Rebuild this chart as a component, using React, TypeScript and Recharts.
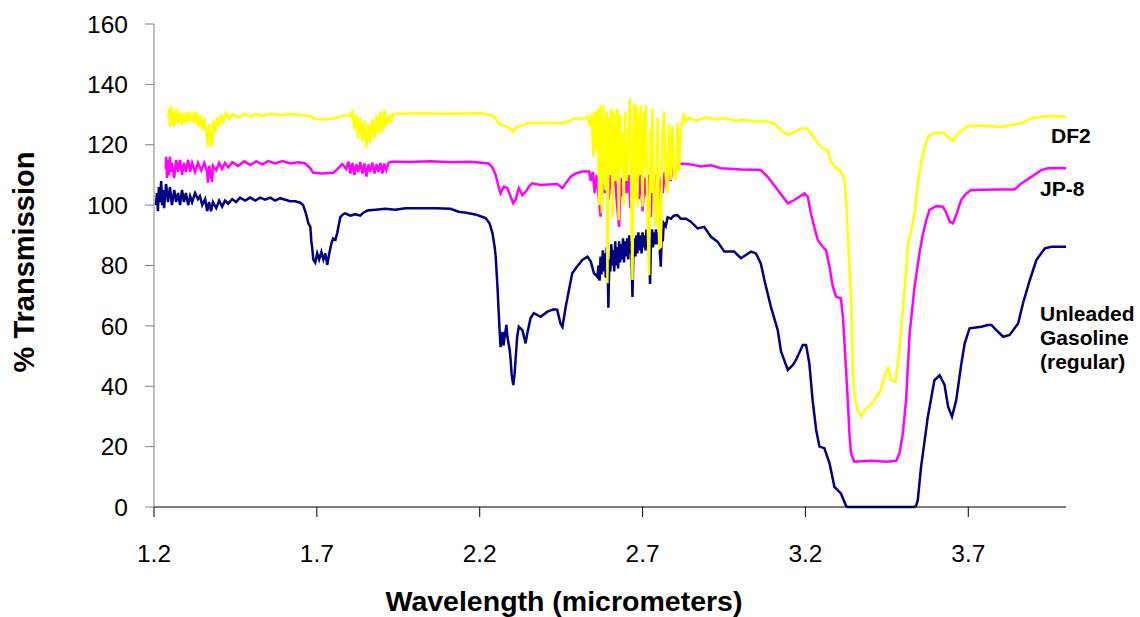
import { LineChart, Line, XAxis, YAxis } from "recharts";

const FONT = "'Liberation Sans', Arial, sans-serif";

const xTicks = [1.2, 1.7, 2.2, 2.7, 3.2, 3.7];
const yTicks = [0, 20, 40, 60, 80, 100, 120, 140, 160];

// [wavelength (micrometers), % transmission]
const gasoline: [number, number][] = [
  [1.206, 100], [1.209, 104], [1.212, 98], [1.215, 106], [1.218, 101], [1.222, 108], [1.225, 100], [1.228, 105],
  [1.231, 99], [1.237, 107], [1.243, 101], [1.249, 106], [1.255, 100], [1.262, 105], [1.268, 101], [1.274, 104],
  [1.28, 100], [1.286, 105], [1.292, 101], [1.298, 104], [1.305, 100], [1.311, 103], [1.317, 101], [1.326, 104],
  [1.335, 102], [1.341, 103], [1.348, 100], [1.357, 102], [1.363, 98], [1.369, 101], [1.375, 98], [1.381, 101],
  [1.391, 99], [1.4, 101.5], [1.409, 99.5], [1.418, 101.5], [1.428, 100.5], [1.44, 102], [1.452, 101], [1.464, 102.5],
  [1.48, 101.5], [1.495, 102.5], [1.511, 101.5], [1.526, 102.5], [1.541, 101.8], [1.557, 102.5], [1.572, 101.5],
  [1.587, 102.3], [1.603, 101.8], [1.618, 101.3], [1.634, 101.3], [1.649, 100.8], [1.658, 100], [1.667, 97],
  [1.674, 94], [1.68, 92.8], [1.683, 88], [1.686, 85.7], [1.689, 82], [1.695, 81], [1.701, 84], [1.707, 82],
  [1.714, 84.5], [1.72, 82], [1.726, 84], [1.732, 80.2], [1.738, 84], [1.744, 87], [1.75, 89], [1.757, 88.5],
  [1.763, 91], [1.772, 96], [1.781, 97], [1.787, 97.3], [1.803, 96.5], [1.818, 97], [1.833, 96.5], [1.843, 97.5],
  [1.855, 98.2], [1.88, 98.5], [1.91, 98.8], [1.941, 98.5], [1.972, 99], [2.018, 99], [2.064, 99], [2.11, 98.8],
  [2.135, 97.8], [2.159, 97.5], [2.19, 96.8], [2.218, 95.7], [2.23, 94], [2.239, 90.8], [2.246, 86], [2.249, 83],
  [2.255, 72], [2.258, 65], [2.261, 58.6], [2.264, 53], [2.267, 55], [2.27, 58], [2.273, 53.5], [2.276, 56],
  [2.282, 60.3], [2.285, 56.4], [2.292, 52], [2.295, 48.7], [2.298, 44], [2.303, 40.4], [2.307, 44], [2.31, 48.7],
  [2.315, 56.4], [2.32, 59.7], [2.331, 58.6], [2.341, 54.2], [2.346, 57.5], [2.356, 62.5], [2.366, 64.2],
  [2.387, 63], [2.408, 64.7], [2.427, 65.5], [2.438, 65.3], [2.448, 60.8], [2.454, 59.7], [2.464, 66.3],
  [2.474, 71.9], [2.484, 77.4], [2.495, 79.1], [2.515, 81.8], [2.531, 82.9], [2.541, 81.3], [2.551, 77.4],
  [2.561, 76.3], [2.565, 80], [2.568, 75], [2.571, 83], [2.574, 77], [2.578, 85], [2.581, 78], [2.584, 84],
  [2.587, 76], [2.59, 86], [2.593, 79], [2.595, 66], [2.598, 82], [2.601, 78], [2.604, 87], [2.607, 80],
  [2.61, 85], [2.613, 78], [2.616, 88], [2.619, 80], [2.622, 86], [2.625, 79], [2.628, 88], [2.631, 81],
  [2.634, 87], [2.637, 82], [2.64, 89], [2.643, 81], [2.646, 88], [2.65, 83], [2.653, 89], [2.656, 82],
  [2.659, 90], [2.662, 84], [2.665, 88], [2.669, 69.6], [2.672, 85], [2.675, 89], [2.678, 83], [2.681, 90],
  [2.684, 84], [2.687, 91], [2.69, 85], [2.693, 90], [2.697, 84], [2.7, 91], [2.703, 86], [2.706, 90],
  [2.709, 85], [2.712, 92], [2.715, 86], [2.718, 91], [2.723, 73.9], [2.726, 88], [2.729, 92], [2.732, 86],
  [2.735, 91], [2.738, 87], [2.741, 92], [2.745, 87], [2.748, 91], [2.751, 88], [2.756, 79.6], [2.759, 92],
  [2.762, 88], [2.765, 94], [2.771, 93], [2.777, 96], [2.787, 95.5], [2.796, 96.5], [2.807, 96.7], [2.817, 95.5],
  [2.833, 95.5], [2.848, 94.5], [2.869, 92.3], [2.889, 92.8], [2.91, 89.5], [2.93, 87.9], [2.951, 84.6],
  [2.981, 84.6], [3.002, 82.4], [3.033, 84.6], [3.048, 84], [3.063, 80.7], [3.074, 75.2], [3.094, 66.3],
  [3.115, 58.6], [3.125, 51.5], [3.146, 45.4], [3.161, 47], [3.171, 48.7], [3.192, 53.7], [3.202, 53.7],
  [3.212, 47.6], [3.222, 35.4], [3.233, 25.5], [3.243, 20], [3.258, 19.5], [3.274, 14.5], [3.289, 6.7],
  [3.309, 4.5], [3.325, 0.3], [3.33, 0], [3.432, 0], [3.534, 0], [3.54, 0.5], [3.545, 2.3], [3.555, 13.3],
  [3.566, 22], [3.576, 30], [3.586, 36], [3.596, 42], [3.612, 43.6], [3.627, 40.5], [3.638, 33.2], [3.65, 29.9],
  [3.663, 35.4], [3.678, 47], [3.689, 54.2], [3.704, 59.2], [3.74, 59.7], [3.76, 60.3], [3.771, 60.3],
  [3.786, 58.6], [3.807, 56.4], [3.827, 57], [3.853, 60.8], [3.868, 67.5], [3.889, 75.2], [3.909, 81.8],
  [3.935, 85.7], [3.955, 86.2], [4.0, 86.2],
];

const jp8: [number, number][] = [
  [1.236, 112], [1.237, 116], [1.24, 109], [1.243, 115], [1.246, 110], [1.249, 116], [1.252, 111], [1.255, 114],
  [1.262, 109], [1.268, 115], [1.274, 111], [1.28, 115], [1.286, 110], [1.292, 114], [1.298, 111], [1.305, 115],
  [1.311, 111], [1.317, 114], [1.326, 111], [1.335, 114], [1.345, 111.5], [1.354, 114], [1.363, 111],
  [1.366, 107.4], [1.369, 113], [1.375, 110], [1.378, 107.6], [1.381, 113], [1.391, 111.5], [1.4, 114],
  [1.409, 112], [1.418, 114], [1.428, 112.5], [1.44, 114.2], [1.458, 113], [1.477, 114.5], [1.495, 113.3],
  [1.514, 114.5], [1.532, 113.5], [1.551, 114.6], [1.572, 113.8], [1.594, 114.6], [1.618, 113.8], [1.643, 114.2],
  [1.664, 113.8], [1.68, 112.2], [1.689, 110.7], [1.717, 110.5], [1.75, 110.7], [1.76, 111.6], [1.778, 113.6],
  [1.79, 112], [1.797, 114.4], [1.803, 110.5], [1.809, 114], [1.815, 110], [1.821, 113.5], [1.827, 111],
  [1.833, 114.2], [1.84, 110.5], [1.846, 113.8], [1.852, 109.5], [1.858, 113.5], [1.864, 111], [1.87, 114],
  [1.877, 110.5], [1.883, 113.5], [1.889, 111], [1.895, 114], [1.901, 110.5], [1.907, 113.8], [1.913, 111.5],
  [1.92, 114], [1.932, 114.4], [1.987, 114.3], [2.049, 114.5], [2.11, 114.2], [2.172, 114.4], [2.227, 113.8],
  [2.238, 112.7], [2.249, 110], [2.259, 105.6], [2.264, 103.9], [2.274, 106.1], [2.285, 105.6], [2.295, 102.8],
  [2.303, 100.6], [2.31, 101.7], [2.32, 105.6], [2.331, 103.3], [2.341, 104.4], [2.351, 106.1], [2.361, 107.2],
  [2.387, 106.7], [2.438, 107], [2.454, 105.6], [2.464, 107.2], [2.479, 109.4], [2.495, 110.5], [2.515, 111.1],
  [2.536, 111.1], [2.541, 108], [2.547, 111], [2.553, 104], [2.559, 110], [2.565, 103], [2.571, 96.2],
  [2.578, 109], [2.584, 104], [2.59, 111], [2.596, 102], [2.602, 110], [2.608, 105], [2.614, 111], [2.621, 101],
  [2.628, 92.8], [2.633, 109], [2.639, 103], [2.645, 111], [2.651, 104], [2.657, 110], [2.663, 99], [2.669, 110],
  [2.675, 104], [2.681, 111], [2.688, 102], [2.694, 110], [2.7, 98], [2.706, 109], [2.712, 103], [2.718, 110],
  [2.725, 96], [2.731, 108], [2.737, 103], [2.743, 110], [2.749, 100], [2.756, 109], [2.762, 104], [2.768, 111],
  [2.774, 106], [2.78, 112], [2.786, 108], [2.792, 112.5], [2.799, 110], [2.805, 113], [2.817, 113.8],
  [2.848, 113.5], [2.879, 112.8], [2.91, 113.2], [2.94, 112.2], [3.002, 111.8], [3.063, 111.6], [3.084, 109.4],
  [3.115, 105], [3.146, 100.6], [3.166, 101.7], [3.197, 103.9], [3.207, 102.8], [3.217, 97.3], [3.227, 92.8],
  [3.238, 88.4], [3.253, 86.2], [3.263, 85.1], [3.274, 79.6], [3.284, 73], [3.294, 69.7], [3.309, 69.1],
  [3.315, 63], [3.32, 54.2], [3.33, 35.4], [3.335, 24.4], [3.34, 17.8], [3.35, 15], [3.402, 15.3], [3.448, 15],
  [3.479, 15.3], [3.489, 17.8], [3.499, 24.4], [3.509, 35.4], [3.52, 57.5], [3.535, 73], [3.55, 84],
  [3.561, 90.6], [3.571, 95], [3.581, 98.4], [3.602, 99.7], [3.622, 99.5], [3.633, 97.3], [3.643, 94.5],
  [3.653, 94], [3.663, 96.7], [3.678, 101.7], [3.694, 103.9], [3.709, 105], [3.791, 105.2], [3.842, 105.2],
  [3.863, 107.2], [3.894, 109.4], [3.924, 111.6], [3.945, 112.2], [4.0, 112.2],
];

const df2: [number, number][] = [
  [1.244, 129], [1.246, 132], [1.249, 126], [1.252, 133], [1.255, 127], [1.258, 131], [1.262, 126], [1.268, 132],
  [1.274, 127], [1.28, 131], [1.286, 126.5], [1.292, 130.5], [1.298, 127], [1.305, 131], [1.311, 127.5],
  [1.317, 130.5], [1.323, 127], [1.329, 131], [1.335, 126], [1.341, 130], [1.348, 125], [1.354, 129], [1.36, 124],
  [1.366, 119.4], [1.369, 127], [1.372, 123], [1.378, 119.4], [1.381, 128], [1.388, 124], [1.394, 129],
  [1.4, 126], [1.406, 130], [1.412, 127.5], [1.421, 130.5], [1.431, 128.5], [1.44, 130.2], [1.458, 129],
  [1.477, 130.3], [1.495, 129.3], [1.514, 130.2], [1.532, 129.5], [1.557, 130.3], [1.587, 129.8], [1.618, 130.2],
  [1.649, 129.8], [1.68, 129.5], [1.689, 128.7], [1.711, 128.4], [1.75, 128.7], [1.787, 129.8], [1.803, 129.5],
  [1.809, 131.5], [1.815, 125], [1.821, 130], [1.827, 122], [1.833, 129], [1.84, 121], [1.846, 128], [1.852, 119],
  [1.858, 127], [1.864, 120.5], [1.87, 128.5], [1.877, 122], [1.883, 130], [1.889, 123.5], [1.895, 131],
  [1.901, 124], [1.907, 131.5], [1.913, 126], [1.92, 130], [1.926, 127], [1.932, 130.2], [2.018, 130.4],
  [2.11, 130.3], [2.202, 130.4], [2.233, 129.8], [2.243, 129.3], [2.264, 126.5], [2.285, 126], [2.303, 124.3],
  [2.315, 126], [2.335, 126.5], [2.346, 127.1], [2.387, 127.3], [2.448, 127.1], [2.469, 127.6], [2.49, 128.7],
  [2.526, 128.7], [2.532, 129.5], [2.538, 126], [2.544, 130], [2.549, 116], [2.553, 131], [2.558, 118],
  [2.562, 132], [2.567, 100], [2.571, 133.2], [2.575, 97.3], [2.58, 133], [2.585, 105], [2.59, 131],
  [2.592, 74.1], [2.596, 129], [2.6, 110], [2.604, 132], [2.608, 96], [2.613, 131], [2.617, 108], [2.623, 132],
  [2.627, 95], [2.631, 130], [2.636, 112], [2.638, 124], [2.642, 100], [2.647, 131], [2.651, 108], [2.653, 110.5],
  [2.657, 120], [2.661, 135.4], [2.665, 105], [2.669, 75.2], [2.673, 133.7], [2.677, 102], [2.681, 133],
  [2.684, 99.5], [2.688, 130], [2.691, 110], [2.694, 133], [2.7, 99.5], [2.704, 131], [2.707, 112], [2.71, 133],
  [2.715, 96.2], [2.72, 76.8], [2.724, 125], [2.727, 104], [2.73, 132], [2.735, 98], [2.74, 92.8], [2.746, 129],
  [2.751, 85.7], [2.756, 86.2], [2.76, 120], [2.765, 131], [2.771, 110], [2.776, 103.9], [2.781, 127],
  [2.786, 108.3], [2.791, 126], [2.796, 110], [2.802, 108.5], [2.807, 127], [2.812, 111.1], [2.817, 124.9],
  [2.827, 130.4], [2.833, 127.5], [2.842, 129], [2.864, 128], [2.894, 129], [2.925, 128.5], [2.956, 128.8],
  [2.987, 128], [3.017, 128.3], [3.048, 127.6], [3.079, 127.8], [3.103, 127.1], [3.125, 124.9], [3.146, 123.2],
  [3.166, 124.3], [3.186, 125.4], [3.202, 125.4], [3.217, 123.8], [3.238, 120.5], [3.253, 118.8], [3.268, 118.3],
  [3.278, 114.4], [3.294, 112.2], [3.309, 111.1], [3.32, 108.3], [3.325, 101.7], [3.33, 90.6], [3.335, 79.6],
  [3.34, 68.6], [3.345, 46.5], [3.35, 37.7], [3.359, 32.1], [3.371, 30.1], [3.386, 32.7], [3.402, 33.8],
  [3.417, 36.5], [3.432, 38.8], [3.445, 44.3], [3.453, 46], [3.463, 42.1], [3.476, 41.5], [3.484, 47.6],
  [3.494, 58.6], [3.505, 73], [3.515, 87.3], [3.525, 91.8], [3.535, 97.3], [3.545, 107.2], [3.555, 113.8],
  [3.566, 119.3], [3.576, 122.6], [3.596, 124], [3.627, 123.8], [3.643, 122.1], [3.653, 121.3], [3.669, 123.8],
  [3.699, 126.2], [3.74, 126.3], [3.801, 126], [3.863, 127.1], [3.894, 128.7], [3.945, 129.5], [4.0, 129.3],
];

const toRows = (pts: [number, number][]) => pts.map(([wl, t]) => ({ wl, t }));

const seriesNames = ["DF2", "JP-8", "Unleaded", "Gasoline", "(regular)"];

function XTick(props: any) {
  const { x, y, payload } = props;
  return (
    <text x={x} y={y} dy="0.71em" textAnchor="middle" fill="#000" fontSize={24.5} fontFamily={FONT}>
      {Number(payload.value).toFixed(1)}
    </text>
  );
}

function YTick(props: any) {
  const { x, y, payload } = props;
  return (
    <text x={x} y={y} dy="0.355em" textAnchor="end" fill="#000" fontSize={24.5} fontFamily={FONT}>
      {payload.value}
    </text>
  );
}

export default function App() {
  return (
    <div style={{ position: "absolute", left: 0, top: 0, width: 1140, height: 617, background: "#fff" }}>
      <LineChart width={1140} height={617} margin={{ top: 24, right: 74, bottom: 0, left: 0 }}>
        <XAxis
          type="number"
          dataKey="wl"
          domain={[1.2, 4.0]}
          ticks={xTicks}
          interval={0}
          allowDataOverflow
          height={110}
          tickSize={10}
          tickMargin={28}
          stroke="#000"
          tick={<XTick />}
        />
        <YAxis
          type="number"
          domain={[0, 160]}
          ticks={yTicks}
          interval={0}
          width={154}
          tickSize={9}
          tickMargin={17}
          stroke="#808080"
          tick={<YTick />}
        />
        <Line data={toRows(gasoline)} dataKey="t" type="linear" stroke="#000080" strokeWidth={2.5} dot={false} isAnimationActive={false} />
        <Line data={toRows(jp8)} dataKey="t" type="linear" stroke="#FF00FF" strokeWidth={2.5} dot={false} isAnimationActive={false} />
        <Line data={toRows(df2)} dataKey="t" type="linear" stroke="#FFFF00" strokeWidth={2.5} dot={false} isAnimationActive={false} />
      </LineChart>
      <svg width={1140} height={617} style={{ position: "absolute", left: 0, top: 0, pointerEvents: "none" }}>
        <g fontFamily={FONT} fontWeight="bold" fill="#000">
          <text x={564} y={611} fontSize={28.5} textAnchor="middle">Wavelength (micrometers)</text>
          <text x={0} y={0} fontSize={29} textAnchor="middle" transform="translate(34,262) rotate(-90)">% Transmission</text>
          <text x={1051} y={143} fontSize={21}>{seriesNames[0]}</text>
          <text x={1040} y={196} fontSize={21}>{seriesNames[1]}</text>
          <text x={1040} y={321} fontSize={21}>{seriesNames[2]}</text>
          <text x={1040} y={345} fontSize={21}>{seriesNames[3]}</text>
          <text x={1040} y={369} fontSize={21}>{seriesNames[4]}</text>
        </g>
      </svg>
    </div>
  );
}
